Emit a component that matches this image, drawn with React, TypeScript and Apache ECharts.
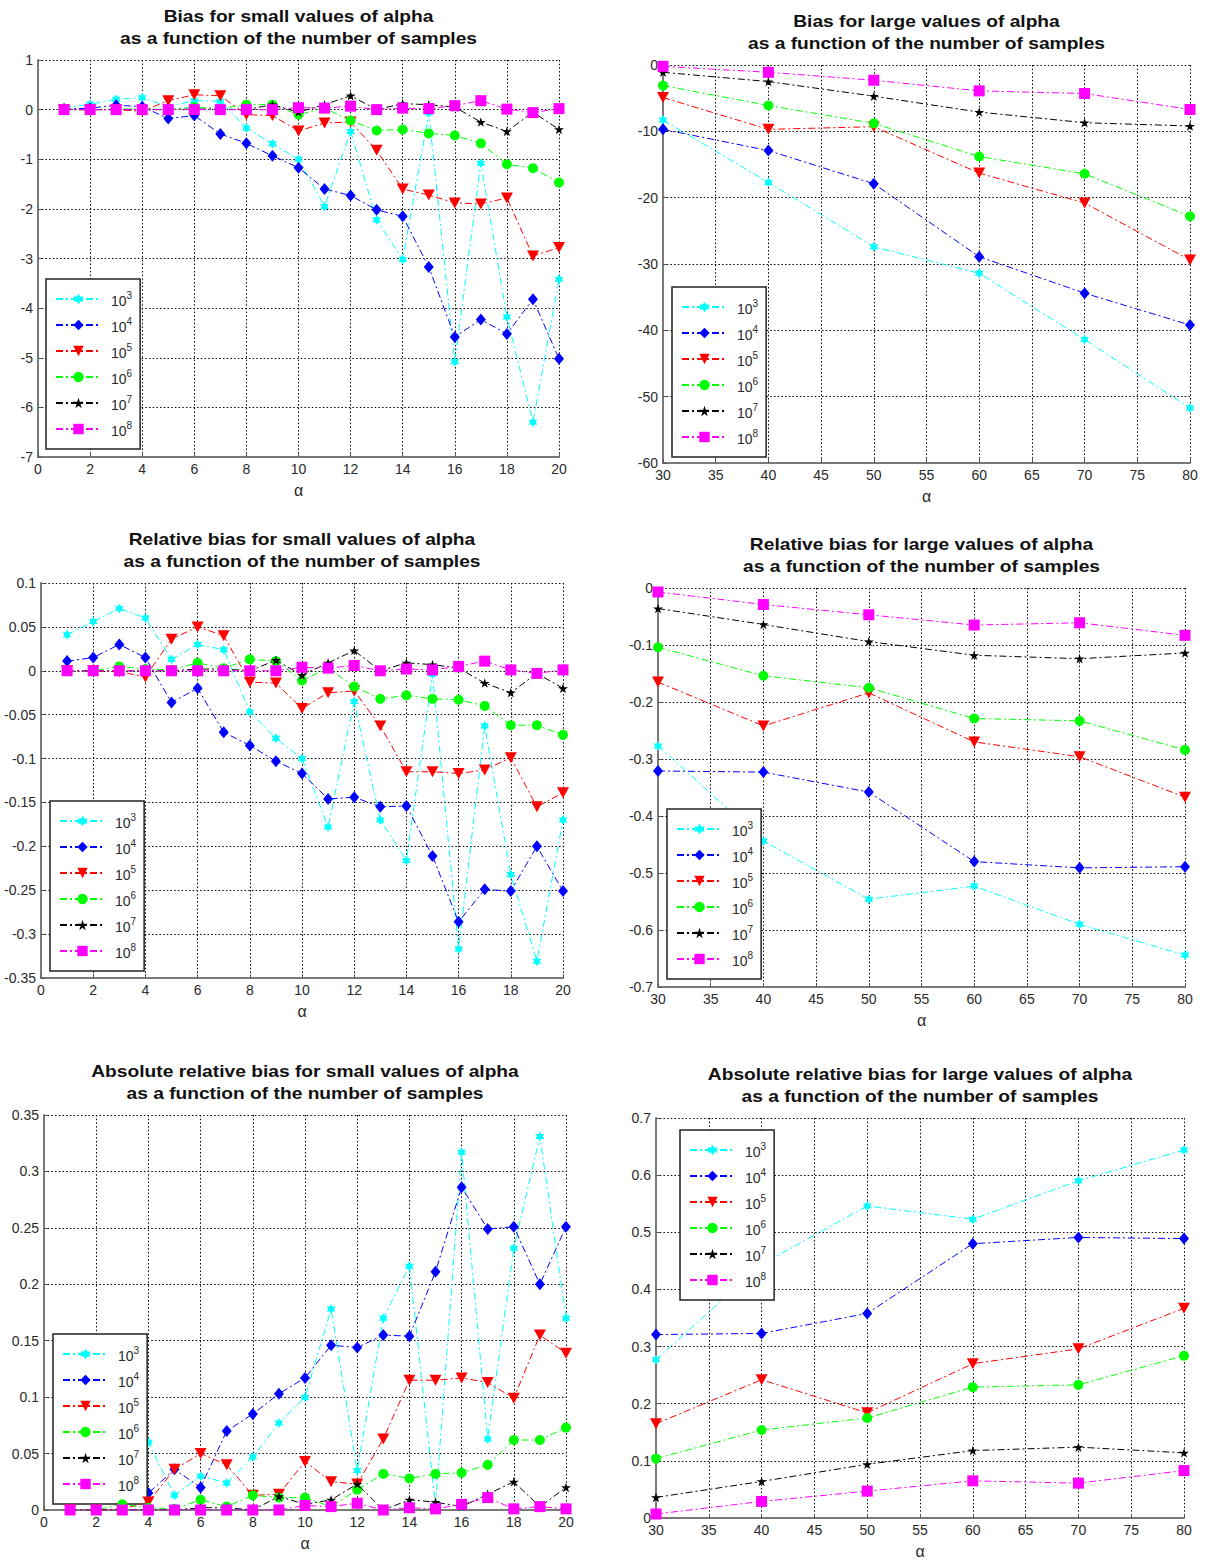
import React, { useEffect, useRef } from 'react';
import * as echarts from 'echarts';

// ---------- data ----------
const ALPHA_SMALL = [1, 2, 3, 4, 5, 6, 7, 8, 9, 10, 11, 12, 13, 14, 15, 16, 17, 18, 19, 20];
const ALPHA_LARGE = [30, 40, 50, 60, 70, 80];
const SERIES_NAMES = ['10³', '10⁴', '10⁵', '10⁶', '10⁷', '10⁸'];
const SERIES_EXPONENTS = ['3', '4', '5', '6', '7', '8'];

// rows: 10^3, 10^4, 10^5, 10^6, 10^7, 10^8
const BIAS_SMALL: number[][] = [
  [0.04, 0.11, 0.21, 0.24, 0.065, 0.18, 0.17, -0.37, -0.69, -1.0, -1.95, -0.44, -2.22, -3.02, -0.07, -5.08, -1.08, -4.18, -6.3, -3.42],
  [0.011, 0.03, 0.09, 0.06, -0.18, -0.12, -0.49, -0.68, -0.93, -1.17, -1.6, -1.73, -2.02, -2.15, -3.17, -4.58, -4.23, -4.52, -3.82, -5.02],
  [0, 0, -0.003, -0.03, 0.18, 0.3, 0.28, -0.1, -0.12, -0.43, -0.27, -0.25, -0.82, -1.6, -1.72, -1.88, -1.9, -1.78, -2.95, -2.78],
  [0, 0, 0.015, 0.01, 0.005, 0.05, 0.02, 0.1, 0.1, -0.1, 0.03, -0.22, -0.42, -0.4, -0.48, -0.52, -0.68, -1.1, -1.18, -1.47],
  [0, 0, 0, 0, 0, 0.01, 0.01, 0, 0.1, -0.05, 0.1, 0.28, 0, 0.12, 0.1, 0.05, -0.25, -0.44, -0.05, -0.4],
  [0, 0, 0, 0, 0, 0, 0, 0, 0, 0.04, 0.03, 0.07, 0, 0.03, 0.02, 0.08, 0.18, 0.01, -0.06, 0.02],
];

const BIAS_LARGE: number[][] = [
  [-8.3, -17.7, -27.4, -31.4, -41.4, -51.7],
  [-9.7, -12.9, -17.9, -28.9, -34.4, -39.2],
  [-4.9, -9.7, -9.3, -16.3, -20.8, -29.4],
  [-3.1, -6.1, -8.8, -13.8, -16.4, -22.8],
  [-1.1, -2.5, -4.7, -7.1, -8.7, -9.2],
  [-0.2, -1.1, -2.3, -3.9, -4.3, -6.7],
];

const REL_SMALL: number[][] = [
  [0.041, 0.056, 0.071, 0.06, 0.013, 0.03, 0.024, -0.047, -0.077, -0.1, -0.178, -0.035, -0.17, -0.216, -0.004, -0.317, -0.063, -0.232, -0.331, -0.17],
  [0.011, 0.015, 0.03, 0.015, -0.036, -0.02, -0.07, -0.085, -0.103, -0.117, -0.146, -0.144, -0.155, -0.154, -0.211, -0.286, -0.249, -0.251, -0.2, -0.251],
  [0, 0, -0.001, -0.007, 0.036, 0.05, 0.04, -0.013, -0.014, -0.043, -0.025, -0.023, -0.063, -0.115, -0.115, -0.117, -0.113, -0.099, -0.155, -0.139],
  [0, 0, 0.005, 0.002, 0.001, 0.009, 0.003, 0.013, 0.011, -0.011, 0.003, -0.018, -0.032, -0.028, -0.032, -0.033, -0.04, -0.062, -0.062, -0.073],
  [0, 0, 0, 0, 0, 0.002, 0.002, 0, 0.012, -0.005, 0.009, 0.023, 0, 0.009, 0.007, 0.003, -0.014, -0.025, -0.003, -0.02],
  [0, 0, 0, 0, 0, 0, 0, 0, 0, 0.004, 0.003, 0.006, 0, 0.002, 0.001, 0.005, 0.011, 0.001, -0.003, 0.001],
];

const REL_LARGE: number[][] = [
  [-0.277, -0.444, -0.546, -0.523, -0.59, -0.644],
  [-0.321, -0.323, -0.358, -0.48, -0.491, -0.489],
  [-0.165, -0.242, -0.184, -0.27, -0.296, -0.367],
  [-0.104, -0.154, -0.175, -0.229, -0.233, -0.284],
  [-0.036, -0.064, -0.094, -0.118, -0.124, -0.114],
  [-0.007, -0.029, -0.047, -0.065, -0.061, -0.083],
];

const ABS_SMALL: number[][] = [
  [0.041, 0.056, 0.071, 0.06, 0.013, 0.03, 0.024, 0.047, 0.077, 0.1, 0.178, 0.035, 0.17, 0.216, 0.004, 0.317, 0.063, 0.232, 0.331, 0.17],
  [0.011, 0.015, 0.03, 0.015, 0.036, 0.02, 0.07, 0.085, 0.103, 0.117, 0.146, 0.144, 0.155, 0.154, 0.211, 0.286, 0.249, 0.251, 0.2, 0.251],
  [0, 0, 0.001, 0.007, 0.036, 0.05, 0.04, 0.013, 0.014, 0.043, 0.025, 0.023, 0.063, 0.115, 0.115, 0.117, 0.113, 0.099, 0.155, 0.139],
  [0, 0, 0.005, 0.002, 0.001, 0.009, 0.003, 0.013, 0.011, 0.011, 0.003, 0.018, 0.032, 0.028, 0.032, 0.033, 0.04, 0.062, 0.062, 0.073],
  [0, 0, 0, 0, 0, 0.002, 0.002, 0, 0.012, 0.005, 0.009, 0.023, 0, 0.009, 0.007, 0.003, 0.014, 0.025, 0.003, 0.02],
  [0, 0, 0, 0, 0, 0, 0, 0, 0, 0.004, 0.003, 0.006, 0, 0.002, 0.001, 0.005, 0.011, 0.001, 0.003, 0.001],
];

const ABS_LARGE: number[][] = [
  [0.277, 0.444, 0.546, 0.523, 0.59, 0.644],
  [0.321, 0.323, 0.358, 0.48, 0.491, 0.489],
  [0.165, 0.242, 0.184, 0.27, 0.296, 0.367],
  [0.104, 0.154, 0.175, 0.229, 0.233, 0.284],
  [0.036, 0.064, 0.094, 0.118, 0.124, 0.114],
  [0.007, 0.029, 0.047, 0.065, 0.061, 0.083],
];

const TITLES: string[][] = [
  ['Bias for small values of alpha', 'as a function of the number of samples'],
  ['Bias for large values of alpha', 'as a function of the number of samples'],
  ['Relative bias for small values of alpha', 'as a function of the number of samples'],
  ['Relative bias for large values of alpha', 'as a function of the number of samples'],
  ['Absolute relative bias for small values of alpha', 'as a function of the number of samples'],
  ['Absolute relative bias for large values of alpha', 'as a function of the number of samples'],
];

// ---------- styling ----------
const FONT = '"Liberation Sans", Arial, sans-serif';
const HEXAGRAM =
  'path://M10,0 L12.887,5 L18.66,5 L15.77,10 L18.66,15 L12.887,15 L10,20 L7.113,15 L1.34,15 L4.23,10 L1.34,5 L7.113,5 Z';
const PENTAGRAM =
  'path://M10,0 L12.245,6.91 L19.51,6.91 L13.63,11.18 L15.88,18.09 L10,13.82 L4.12,18.09 L6.37,11.18 L0.49,6.91 L7.755,6.91 Z';

const STYLES: any[] = [
  { color: '#00FFFF', symbol: HEXAGRAM, size: 10, rotate: 0 },
  { color: '#0000FF', symbol: 'diamond', size: [10, 12], rotate: 0 },
  { color: '#FF0000', symbol: 'triangle', size: [12, 11], rotate: 180 },
  { color: '#00FF00', symbol: 'circle', size: 10, rotate: 0 },
  { color: '#000000', symbol: PENTAGRAM, size: 10, rotate: 0 },
  { color: '#FF00FF', symbol: 'rect', size: 11, rotate: 0 },
];

const PANELS: any[] = [
  { grid: { left: 38, top: 60, width: 521, height: 397 }, x: [0, 20, 2], y: [-7, 1, 1], xs: ALPHA_SMALL, data: BIAS_SMALL, legend: { left: 46, top: 279 } },
  { grid: { left: 663, top: 65, width: 527, height: 398 }, x: [30, 80, 5], y: [-60, 0, 10], xs: ALPHA_LARGE, data: BIAS_LARGE, legend: { left: 672, top: 287 } },
  { grid: { left: 41, top: 583, width: 522, height: 395 }, x: [0, 20, 2], y: [-0.35, 0.1, 0.05], xs: ALPHA_SMALL, data: REL_SMALL, legend: { left: 50, top: 801 } },
  { grid: { left: 658, top: 588, width: 527, height: 399 }, x: [30, 80, 5], y: [-0.7, 0, 0.1], xs: ALPHA_LARGE, data: REL_LARGE, legend: { left: 667, top: 809 } },
  { grid: { left: 44, top: 1115, width: 522, height: 395 }, x: [0, 20, 2], y: [0, 0.35, 0.05], xs: ALPHA_SMALL, data: ABS_SMALL, legend: { left: 53, top: 1334 } },
  { grid: { left: 656, top: 1118, width: 528, height: 400 }, x: [30, 80, 5], y: [0, 0.7, 0.1], xs: ALPHA_LARGE, data: ABS_LARGE, legend: { left: 680, top: 1130 } },
];

const fmt = (v: number) => String(Math.round(v * 1000) / 1000);

function buildOption() {
  const grids: any[] = [];
  const xAxes: any[] = [];
  const yAxes: any[] = [];
  const series: any[] = [];
  const legends: any[] = [];
  const graphics: any[] = [];

  const splitLine = { show: true, lineStyle: { color: '#000', type: [1.5, 2.2], width: 1 } };
  const axisLine = { show: true, onZero: false, lineStyle: { color: '#7a7a7a', width: 2 } };
  const axisTick = { show: true, inside: true, length: 4, lineStyle: { color: '#555', width: 1 } };
  const axisLabel = { fontSize: 14, color: '#2a2a2a', fontFamily: FONT, formatter: fmt };

  PANELS.forEach((p, i) => {
    grids.push({ ...p.grid, containLabel: false });
    xAxes.push({
      type: 'value', gridIndex: i, min: p.x[0], max: p.x[1], interval: p.x[2],
      splitLine, axisLine, axisTick, axisLabel: { ...axisLabel, margin: 5 },
      name: 'α', nameLocation: 'middle', nameGap: 25,
      nameTextStyle: { fontSize: 16, color: '#2a2a2a', fontFamily: FONT },
    });
    yAxes.push({
      type: 'value', gridIndex: i, min: p.y[0], max: p.y[1], interval: p.y[2],
      splitLine, axisLine, axisTick, axisLabel: { ...axisLabel, margin: 5 },
    });
    p.data.forEach((row: number[], k: number) => {
      const st = STYLES[k];
      series.push({
        type: 'line', name: SERIES_NAMES[k], xAxisIndex: i, yAxisIndex: i,
        data: p.xs.map((x: number, j: number) => [x, row[j]]),
        symbol: st.symbol, symbolSize: st.size, symbolRotate: st.rotate, symbolKeepAspect: true,
        showAllSymbol: true,
        itemStyle: { color: st.color, opacity: 1 },
        lineStyle: { color: st.color, width: 1, type: [7, 3, 2, 3] },
        z: 2 + k,
      });
    });
    legends.push({
      left: p.legend.left, top: p.legend.top, orient: 'vertical',
      data: SERIES_NAMES,
      itemWidth: 45, itemHeight: 13, itemGap: 8,
      padding: [11, 8, 11, 9],
      borderColor: '#222', borderWidth: 1.5, backgroundColor: '#fff',
      formatter: (name: string) => `{a|10}{b|${SERIES_EXPONENTS[SERIES_NAMES.indexOf(name)]}}`,
      textStyle: {
        fontSize: 14, color: '#2a2a2a', fontFamily: FONT, padding: [0, 0, 0, 5],
        rich: {
          a: { fontSize: 14, lineHeight: 18, color: '#2a2a2a', fontFamily: FONT, verticalAlign: 'bottom' },
          b: { fontSize: 10, lineHeight: 10, color: '#2a2a2a', fontFamily: FONT, verticalAlign: 'top' },
        },
      },
      selectedMode: false,
    });
    const cx = p.grid.left + p.grid.width / 2;
    TITLES[i].forEach((line, li) => {
      graphics.push({
        type: 'text', x: cx, y: p.grid.top - (li === 0 ? 43 : 21), scaleX: 1.2,
        style: {
          text: line, align: 'center', verticalAlign: 'middle',
          font: `bold 16px ${FONT}`, fill: '#111',
        },
      });
    });
  });

  return {
    animation: false,
    backgroundColor: '#fff',
    grid: grids,
    xAxis: xAxes,
    yAxis: yAxes,
    legend: legends,
    series,
    graphic: graphics,
  };
}

export default function App() {
  const ref = useRef<HTMLDivElement>(null);
  useEffect(() => {
    if (!ref.current) return;
    const chart = echarts.init(ref.current, undefined, { renderer: 'svg' });
    chart.setOption(buildOption() as any);
    return () => chart.dispose();
  }, []);
  return (
    <div
      ref={ref}
      style={{ position: 'absolute', left: 0, top: 0, width: 1205, height: 1563, background: '#fff' }}
    />
  );
}
